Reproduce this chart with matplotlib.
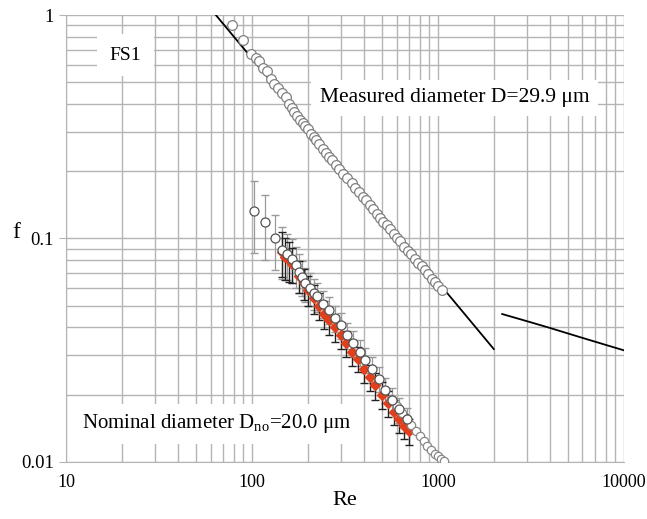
import matplotlib
matplotlib.use("Agg")
import matplotlib.pyplot as plt
import matplotlib.ticker as mticker

plt.rcParams["font.family"] = ["Liberation Serif", "DejaVu Serif"]

# measured-diameter data (open grey circles)
meas_re = [78, 90, 99, 105, 109, 115, 121, 127, 132, 138, 145, 152, 158, 164, 169,
           175, 182, 188, 194, 200, 208, 215, 222, 230, 240, 250, 260, 270, 282,
           295, 310, 325, 345, 360, 376, 395, 410, 430, 450, 470, 490, 510, 530,
           555, 580, 605, 630, 660, 690, 720, 750, 785, 820, 855, 890, 925, 960,
           1000, 1050]
meas_f = [0.90, 0.77, 0.67, 0.64, 0.62, 0.58, 0.56, 0.52, 0.49, 0.47, 0.45, 0.43,
          0.40, 0.385, 0.37, 0.355, 0.34, 0.33, 0.32, 0.31, 0.295, 0.285, 0.275,
          0.265, 0.252, 0.242, 0.232, 0.224, 0.214, 0.205, 0.195, 0.186, 0.177,
          0.168, 0.161, 0.153, 0.148, 0.141, 0.135, 0.129, 0.124, 0.119, 0.115,
          0.110, 0.105, 0.100, 0.097, 0.092, 0.088, 0.085, 0.081, 0.078, 0.075,
          0.072, 0.069, 0.066, 0.064, 0.061, 0.0588]

# nominal-diameter data (open circles with error bars)
nom_re = [103, 118, 133, 146, 155, 164, 172, 179, 187, 194, 205, 215, 224, 240,
          259, 280, 300, 325, 350, 380, 408, 440, 480, 522, 570, 620, 680]
nom_f = [0.133, 0.118, 0.100, 0.089, 0.085, 0.081, 0.076, 0.071, 0.067, 0.063,
         0.060, 0.057, 0.055, 0.051, 0.048, 0.044, 0.041, 0.037, 0.034, 0.031,
         0.0286, 0.026, 0.0235, 0.021, 0.019, 0.0172, 0.0155]
nom_err = [0.047, 0.038, 0.028, 0.023, 0.020, 0.018, 0.016, 0.014, 0.012, 0.011,
           0.010, 0.009, 0.008, 0.007, 0.0065, 0.006, 0.0055, 0.005, 0.0045,
           0.004, 0.0037, 0.0034, 0.003, 0.0027, 0.0024, 0.0022, 0.002]

# nominal-diameter data, second run (red)
red_re = [146, 150, 158, 165, 180, 190, 200, 215, 230, 245, 260, 280, 300, 320,
          345, 370, 400, 430, 460, 500, 540, 580, 620, 660, 700]
red_f = [0.087, 0.083, 0.080, 0.077, 0.068, 0.063, 0.059, 0.054, 0.050, 0.046,
         0.043, 0.040, 0.037, 0.034, 0.031, 0.029, 0.026, 0.024, 0.022, 0.020,
         0.0183, 0.0168, 0.0155, 0.0145, 0.0137]
red_err = [0.020, 0.018, 0.016, 0.014, 0.011, 0.010, 0.009, 0.008, 0.007, 0.0065,
           0.006, 0.0055, 0.005, 0.0045, 0.004, 0.0038, 0.0035, 0.0032, 0.003,
           0.0027, 0.0024, 0.0022, 0.002, 0.0019, 0.0018]

# nominal-diameter tail (grey circles)
tail_re = [560, 600, 640, 680, 720, 760, 800, 840, 880, 920, 960, 1000, 1040, 1080]
tail_f = [0.0192, 0.0178, 0.0166, 0.0155, 0.0146, 0.0138, 0.0130, 0.0124,
          0.0118, 0.0113, 0.0109, 0.0106, 0.0103, 0.0101]

# reference lines: laminar and Blasius
lam_re = [64, 2000]
lam_f = [1.0, 0.032]
turb_re = [2220, 3000, 4000, 5000, 6000, 8000, 10000]
turb_f = [0.0459, 0.0427, 0.0398, 0.0376, 0.0359, 0.0334, 0.0316]

fig = plt.figure(figsize=(6.47, 5.19), dpi=100)
ax = fig.add_axes([0.102, 0.110, 0.862, 0.861])
ax.set_xscale("log")
ax.set_yscale("log")
ax.set_xlim(10, 10000)
ax.set_ylim(0.01, 1)

ax.grid(True, which="both", color="#b4b4b4", linewidth=1.0)
ax.set_axisbelow(True)
for s in ["top", "right"]:
    ax.spines[s].set_visible(False)
for s in ["left", "bottom"]:
    ax.spines[s].set_color("#b4b4b4")

ax.plot(lam_re, lam_f, color="black", linewidth=1.3, zorder=3)
ax.plot(turb_re, turb_f, color="black", linewidth=1.3, zorder=3)

ax.plot(meas_re, meas_f, linestyle="none", marker="o", markersize=7,
        markerfacecolor="white", markeredgecolor="#808080", markeredgewidth=0.9, zorder=4)

ax.errorbar(nom_re, nom_f, yerr=nom_err, fmt="none", ecolor="#9a9a9a",
            elinewidth=0.9, capsize=3, zorder=4)
ax.errorbar(red_re, red_f, yerr=red_err, fmt="none", ecolor="#222222",
            elinewidth=1.0, capsize=3, zorder=5)
ax.plot(red_re, red_f, linestyle="none", marker="D", markersize=5.5,
        color="#e0401c", zorder=6)
ax.plot(tail_re, tail_f, linestyle="none", marker="o", markersize=6,
        markerfacecolor="white", markeredgecolor="#888888", markeredgewidth=0.9, zorder=6)
ax.plot(nom_re, nom_f, linestyle="none", marker="o", markersize=6.5,
        markerfacecolor="white", markeredgecolor="#555555", markeredgewidth=0.9, zorder=7)

ax.xaxis.set_major_formatter(mticker.FuncFormatter(lambda v, p: f"{v:g}"))
ax.yaxis.set_major_formatter(mticker.FuncFormatter(lambda v, p: f"{v:g}"))
ax.xaxis.set_minor_formatter(mticker.NullFormatter())
ax.yaxis.set_minor_formatter(mticker.NullFormatter())
ax.tick_params(which="major", labelsize=13.5, length=5, color="#b4b4b4")
ax.tick_params(which="minor", length=0)
ax.tick_params(axis="x", which="major", length=0, pad=9, labelsize=13)

ax.set_xlabel("Re", fontsize=16, labelpad=0)
ax.set_ylabel("f", fontsize=17, rotation=0)
ax.yaxis.set_label_coords(-0.09, 0.49)

box = dict(facecolor="white", edgecolor="none", pad=6)
ax.text(0.078, 0.91, "FS1", transform=ax.transAxes, fontsize=14,
        va="center", ha="left", bbox=dict(facecolor="white", edgecolor="none", pad=9))
ax.text(0.455, 0.815, "Measured diameter D=29.9 \u03bcm", transform=ax.transAxes,
        fontsize=15.5, va="center", ha="left", bbox=box, zorder=2)
ax.text(0.028, 0.085, "Nominal diameter D$_{\\mathregular{no}}$=20.0 \u03bcm",
        transform=ax.transAxes, fontsize=15, va="center", ha="left", bbox=box, zorder=2)

fig.savefig("out.png", dpi=100)
